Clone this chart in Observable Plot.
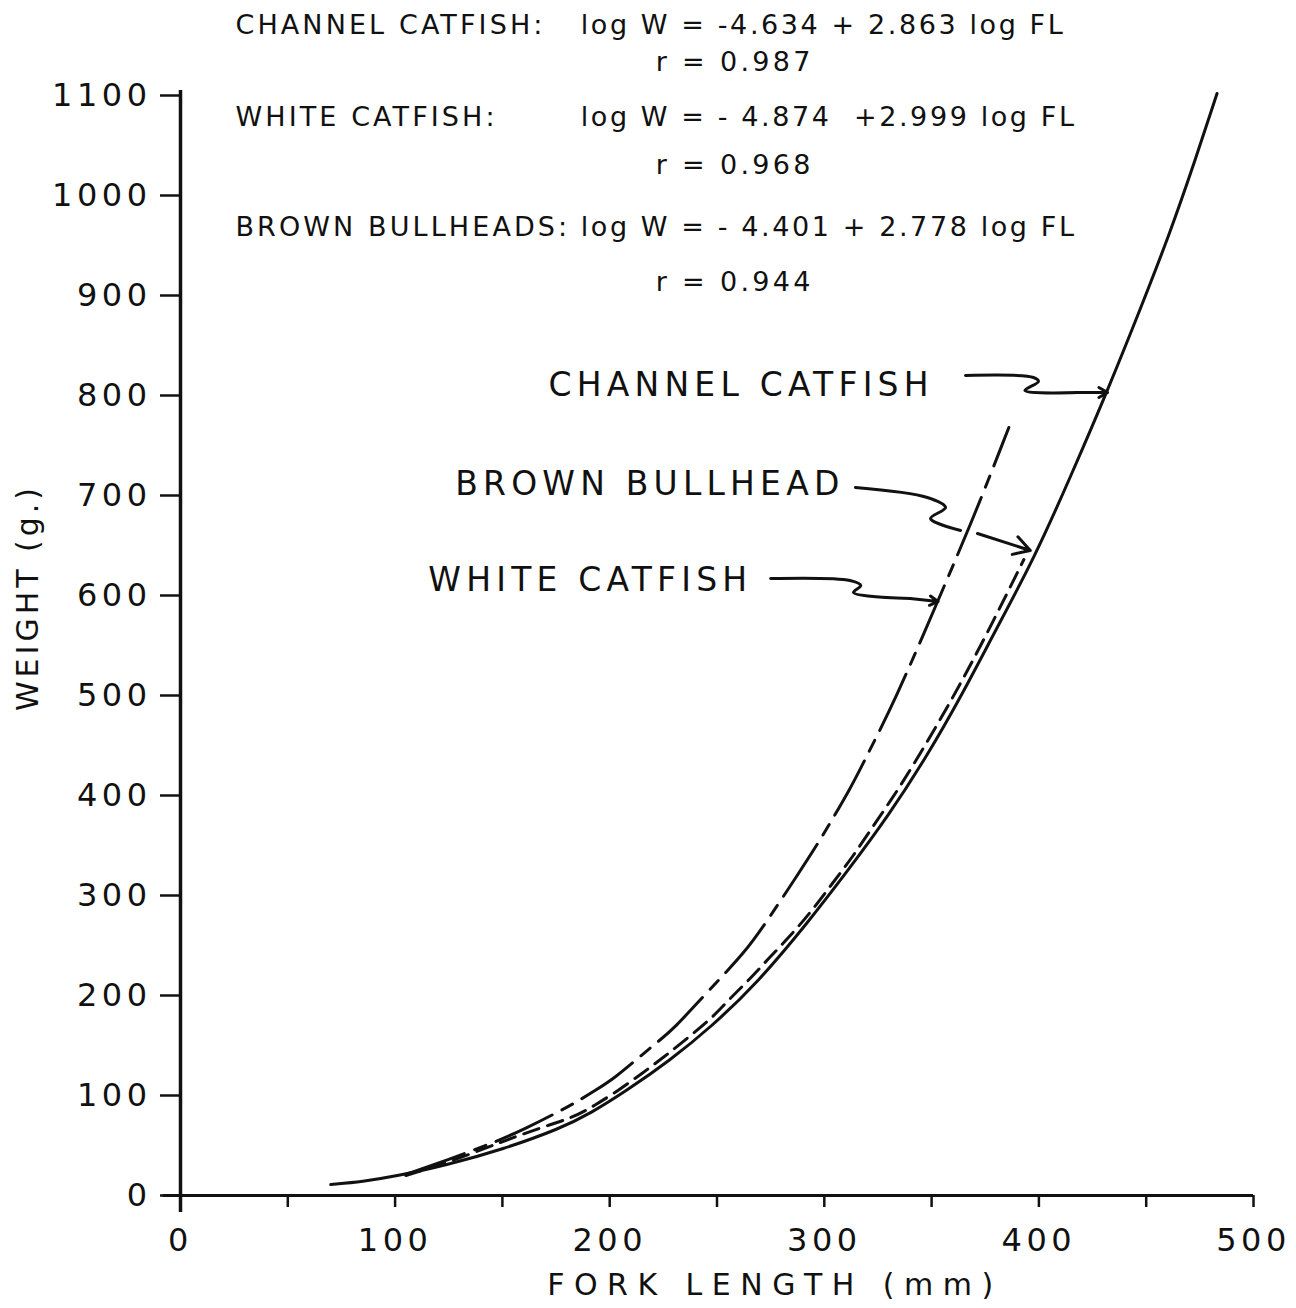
<!DOCTYPE html>
<html>
<head>
<meta charset="utf-8">
<script src="https://cdn.jsdelivr.net/npm/d3@7"></script>
<script src="https://cdn.jsdelivr.net/npm/@observablehq/plot@0.6"></script>
<style>
  body { margin: 0; background: #fff; }
  #chart svg { display: block; }
</style>
</head>
<body>
<div id="chart"></div>
<script>
// ---- Data ----
// Fork length (mm) and weight (g) along each fitted curve
const channelFL = [70, 85, 100, 125, 150, 177, 191, 208, 228, 247, 269, 292, 311, 330, 348, 364, 380, 398, 415, 432, 447, 461, 472, 483];
const channelW  = [11, 14, 19, 31, 46, 67, 82, 105, 135, 168, 213, 272, 325, 380, 440, 500, 566, 638, 720, 805, 885, 962, 1030, 1102];

const whiteFL = [105, 125, 145, 160, 182, 194, 202, 213, 222, 230, 244, 255, 262.5, 269.5, 288, 298, 313, 318, 333, 353, 370, 386];
const whiteW  = [21, 36, 52, 66, 90, 106, 117, 137, 153, 167, 200, 225, 243, 262, 322, 355, 410, 432, 495, 595, 680, 768];

const brownFL = [105, 125, 150, 168, 183, 193, 204, 215, 225, 236, 248, 256, 265.6, 274, 283.5, 293.6, 303.7, 313, 322, 331, 340, 358, 375, 393];
const brownW  = [20, 33, 54, 68, 78, 90, 105, 122, 138, 157, 178, 197, 217, 237, 258, 283, 312, 338, 367, 395, 425, 490, 558, 636];

// Axis ticks
const xTicks = [0, 50, 100, 150, 200, 250, 300, 350, 400, 450, 500];
const yTicks = [0, 100, 200, 300, 400, 500, 600, 700, 800, 900, 1000, 1100];

// Regression equations printed at the top
const eqNames = ["CHANNEL CATFISH:", "WHITE CATFISH:", "BROWN BULLHEADS:"];
const eqFormulas = ["log W = -4.634 + 2.863 log FL", "log W = - 4.874  +2.999 log FL", "log W = - 4.401 + 2.778 log FL"];
const eqR = ["r = 0.987", "r = 0.968", "r = 0.944"];
const eqLineW = [1170, 1078, 968];
const eqRW = [1133, 1030, 913];
const eqNameFL = 25.6;
const eqFormulaFL = 186.5;
const eqRFL = 221.5;

// Curve labels
const curveLabels = ["CHANNEL CATFISH", "BROWN BULLHEAD", "WHITE CATFISH"];
const curveLabelFL = [171.5, 128, 115.5];
const curveLabelW = [810, 711, 615];

// Wavy pointer arrows (squiggle part, then the headed segment)
const arrowChannelFL = [365.8, 397.5, 399.8, 393.5, 418];
const arrowChannelW  = [820, 818, 814, 805, 803];
const arrowChannelHead = [418, 803, 432, 803];
const arrowBrownFL = [314.5, 348, 356.5, 349.5, 363.5];
const arrowBrownW  = [708, 698, 688, 677, 665];
const arrowBrownHead = [371.4, 662, 396, 645];
const arrowWhiteFL = [275, 312, 317, 313.6, 340];
const arrowWhiteW  = [617, 615, 610, 603, 597];
const arrowWhiteHead = [340, 597, 353, 594];

// ---- Build tables ----
const zip = (xs, ys, extra) => xs.map((x, i) => ({ fl: x, w: ys[i], ...extra }));
const channel = zip(channelFL, channelW, { sp: "channel" });
const white = zip(whiteFL, whiteW, { sp: "white" });
const brown = zip(brownFL, brownW, { sp: "brown" });

const squiggles = [
  ...zip(arrowChannelFL, arrowChannelW, { id: "c" }),
  ...zip(arrowBrownFL, arrowBrownW, { id: "b" }),
  ...zip(arrowWhiteFL, arrowWhiteW, { id: "w" })
];
const heads = [arrowChannelHead, arrowBrownHead, arrowWhiteHead].map(([x1, y1, x2, y2]) => ({ x1, y1, x2, y2 }));

const eqNameRows = eqNames.map((t, i) => ({ t, fl: eqNameFL, w: eqLineW[i] }));
const eqFormulaRows = eqFormulas.map((t, i) => ({ t, fl: eqFormulaFL, w: eqLineW[i] }));
const eqRRows = eqR.map((t, i) => ({ t, fl: eqRFL, w: eqRW[i] }));
const labelRows = curveLabels.map((t, i) => ({ t, fl: curveLabelFL[i], w: curveLabelW[i] }));

const ink = "#111";
const font = "DejaVu Sans";

const plot = Plot.plot({
  width: 1296,
  height: 1308,
  marginLeft: 180,
  marginRight: 43,
  marginTop: 95,
  marginBottom: 113,
  x: { domain: [0, 500] },
  y: { domain: [0, 1100] },
  style: { fontFamily: font, color: ink, background: "#fff", overflow: "visible" },
  marks: [
    Plot.axisY(yTicks, { tickSize: 20, tickPadding: 9, fontSize: 32, strokeWidth: 2.5, label: null, fill: ink,
      tickFormat: d => String(d) }),
    Plot.axisX(xTicks, { tickSize: 12, tickPadding: 21, fontSize: 32, strokeWidth: 2.5, label: null, fill: ink,
      tickFormat: d => (d % 100 === 0 ? String(d) : "") }),
    Plot.ruleX([0], { y1: -17, y2: 1105, stroke: ink, strokeWidth: 3.5 }),
    Plot.ruleY([0], { x1: -8, x2: 500, stroke: ink, strokeWidth: 3 }),

    Plot.line(channel, { x: "fl", y: "w", stroke: ink, strokeWidth: 3, curve: "basis" }),
    Plot.line(white, { x: "fl", y: "w", stroke: ink, strokeWidth: 3, curve: "basis", strokeDasharray: "62,11,12,11" }),
    Plot.line(brown, { x: "fl", y: "w", stroke: ink, strokeWidth: 3, curve: "basis", strokeDasharray: "16,9" }),

    Plot.line(squiggles, { x: "fl", y: "w", z: "id", stroke: ink, strokeWidth: 3, curve: "catmull-rom" }),
    Plot.arrow(heads, { x1: "x1", y1: "y1", x2: "x2", y2: "y2", stroke: ink, strokeWidth: 3, headLength: 14 }),

    Plot.text(eqNameRows, { x: "fl", y: "w", text: "t", textAnchor: "start", fontSize: 27, fill: ink }),
    Plot.text(eqFormulaRows, { x: "fl", y: "w", text: "t", textAnchor: "start", fontSize: 27, fill: ink }),
    Plot.text(eqRRows, { x: "fl", y: "w", text: "t", textAnchor: "start", fontSize: 27, fill: ink }),
    Plot.text(labelRows, { x: "fl", y: "w", text: "t", textAnchor: "start", fontSize: 33, fill: ink }),

    Plot.text(["FORK LENGTH (mm)"], { x: 277, y: -90, text: d => d, fontSize: 30, fill: ink }),
    Plot.text(["WEIGHT (g.)"], { x: -71, y: 598, text: d => d, fontSize: 30, rotate: -90, fill: ink })
  ]
});

// letter spacing to mimic the stencil lettering
const spacing = new Map();
curveLabels.forEach(t => spacing.set(t, "5.2px"));
eqNames.forEach(t => spacing.set(t, "3.1px"));
eqFormulas.forEach(t => spacing.set(t, "2.6px"));
eqR.forEach(t => spacing.set(t, "3.3px"));
spacing.set("FORK LENGTH (mm)", "9.5px");
spacing.set("WEIGHT (g.)", "4px");
d3.select(plot).selectAll("text").each(function () {
  const t = this.textContent;
  if (spacing.has(t)) this.style.letterSpacing = spacing.get(t);
  else if (/^\d+$/.test(t)) this.style.letterSpacing = "4.5px";
});

document.getElementById("chart").appendChild(plot);
</script>
</body>
</html>
